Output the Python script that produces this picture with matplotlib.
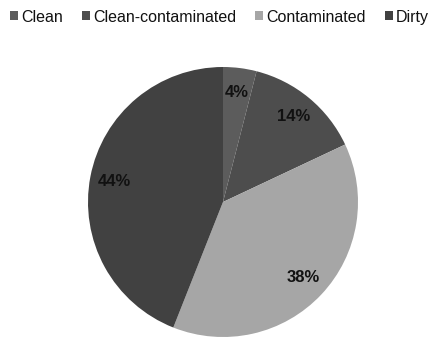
import matplotlib
matplotlib.use("Agg")
import matplotlib.pyplot as plt
from matplotlib.patches import Patch

plt.rcParams['font.family'] = ['Liberation Sans', 'DejaVu Sans']

categories = ["Clean", "Clean-contaminated", "Contaminated", "Dirty"]
shares = [4, 14, 38, 44]
colors = ["#5c5c5c", "#4d4d4d", "#a6a6a6", "#414141"]

W, H = 441, 341
fig = plt.figure(figsize=(W / 100, H / 100), dpi=100)
fig.patch.set_facecolor("white")

cx, cy, r = 223, 202, 135
ax = fig.add_axes([(cx - r) / W, (H - cy - r) / H, 2 * r / W, 2 * r / H])
wedges, texts, autotexts = ax.pie(
    shares, colors=colors, startangle=90, counterclock=False,
    autopct=lambda p: f"{p:.0f}%", pctdistance=0.82,
    wedgeprops=dict(linewidth=0),
    textprops=dict(fontsize=12, fontweight="bold", color="#111111"),
)
ax.set_xlim(-1, 1)
ax.set_ylim(-1, 1)
ax.set_aspect("equal")
ax.axis("off")

handles = [Patch(facecolor=c, edgecolor="none") for c in colors]
fig.legend(handles, categories, loc="upper left", bbox_to_anchor=(0.0, 1.0),
           ncol=4, frameon=False, fontsize=11.5, handlelength=0.5, handleheight=0.5,
           handletextpad=0.2, columnspacing=1.2, borderaxespad=0.25,
           borderpad=0.35, labelcolor="#111111")

fig.savefig("out.png", dpi=100, facecolor="white")
